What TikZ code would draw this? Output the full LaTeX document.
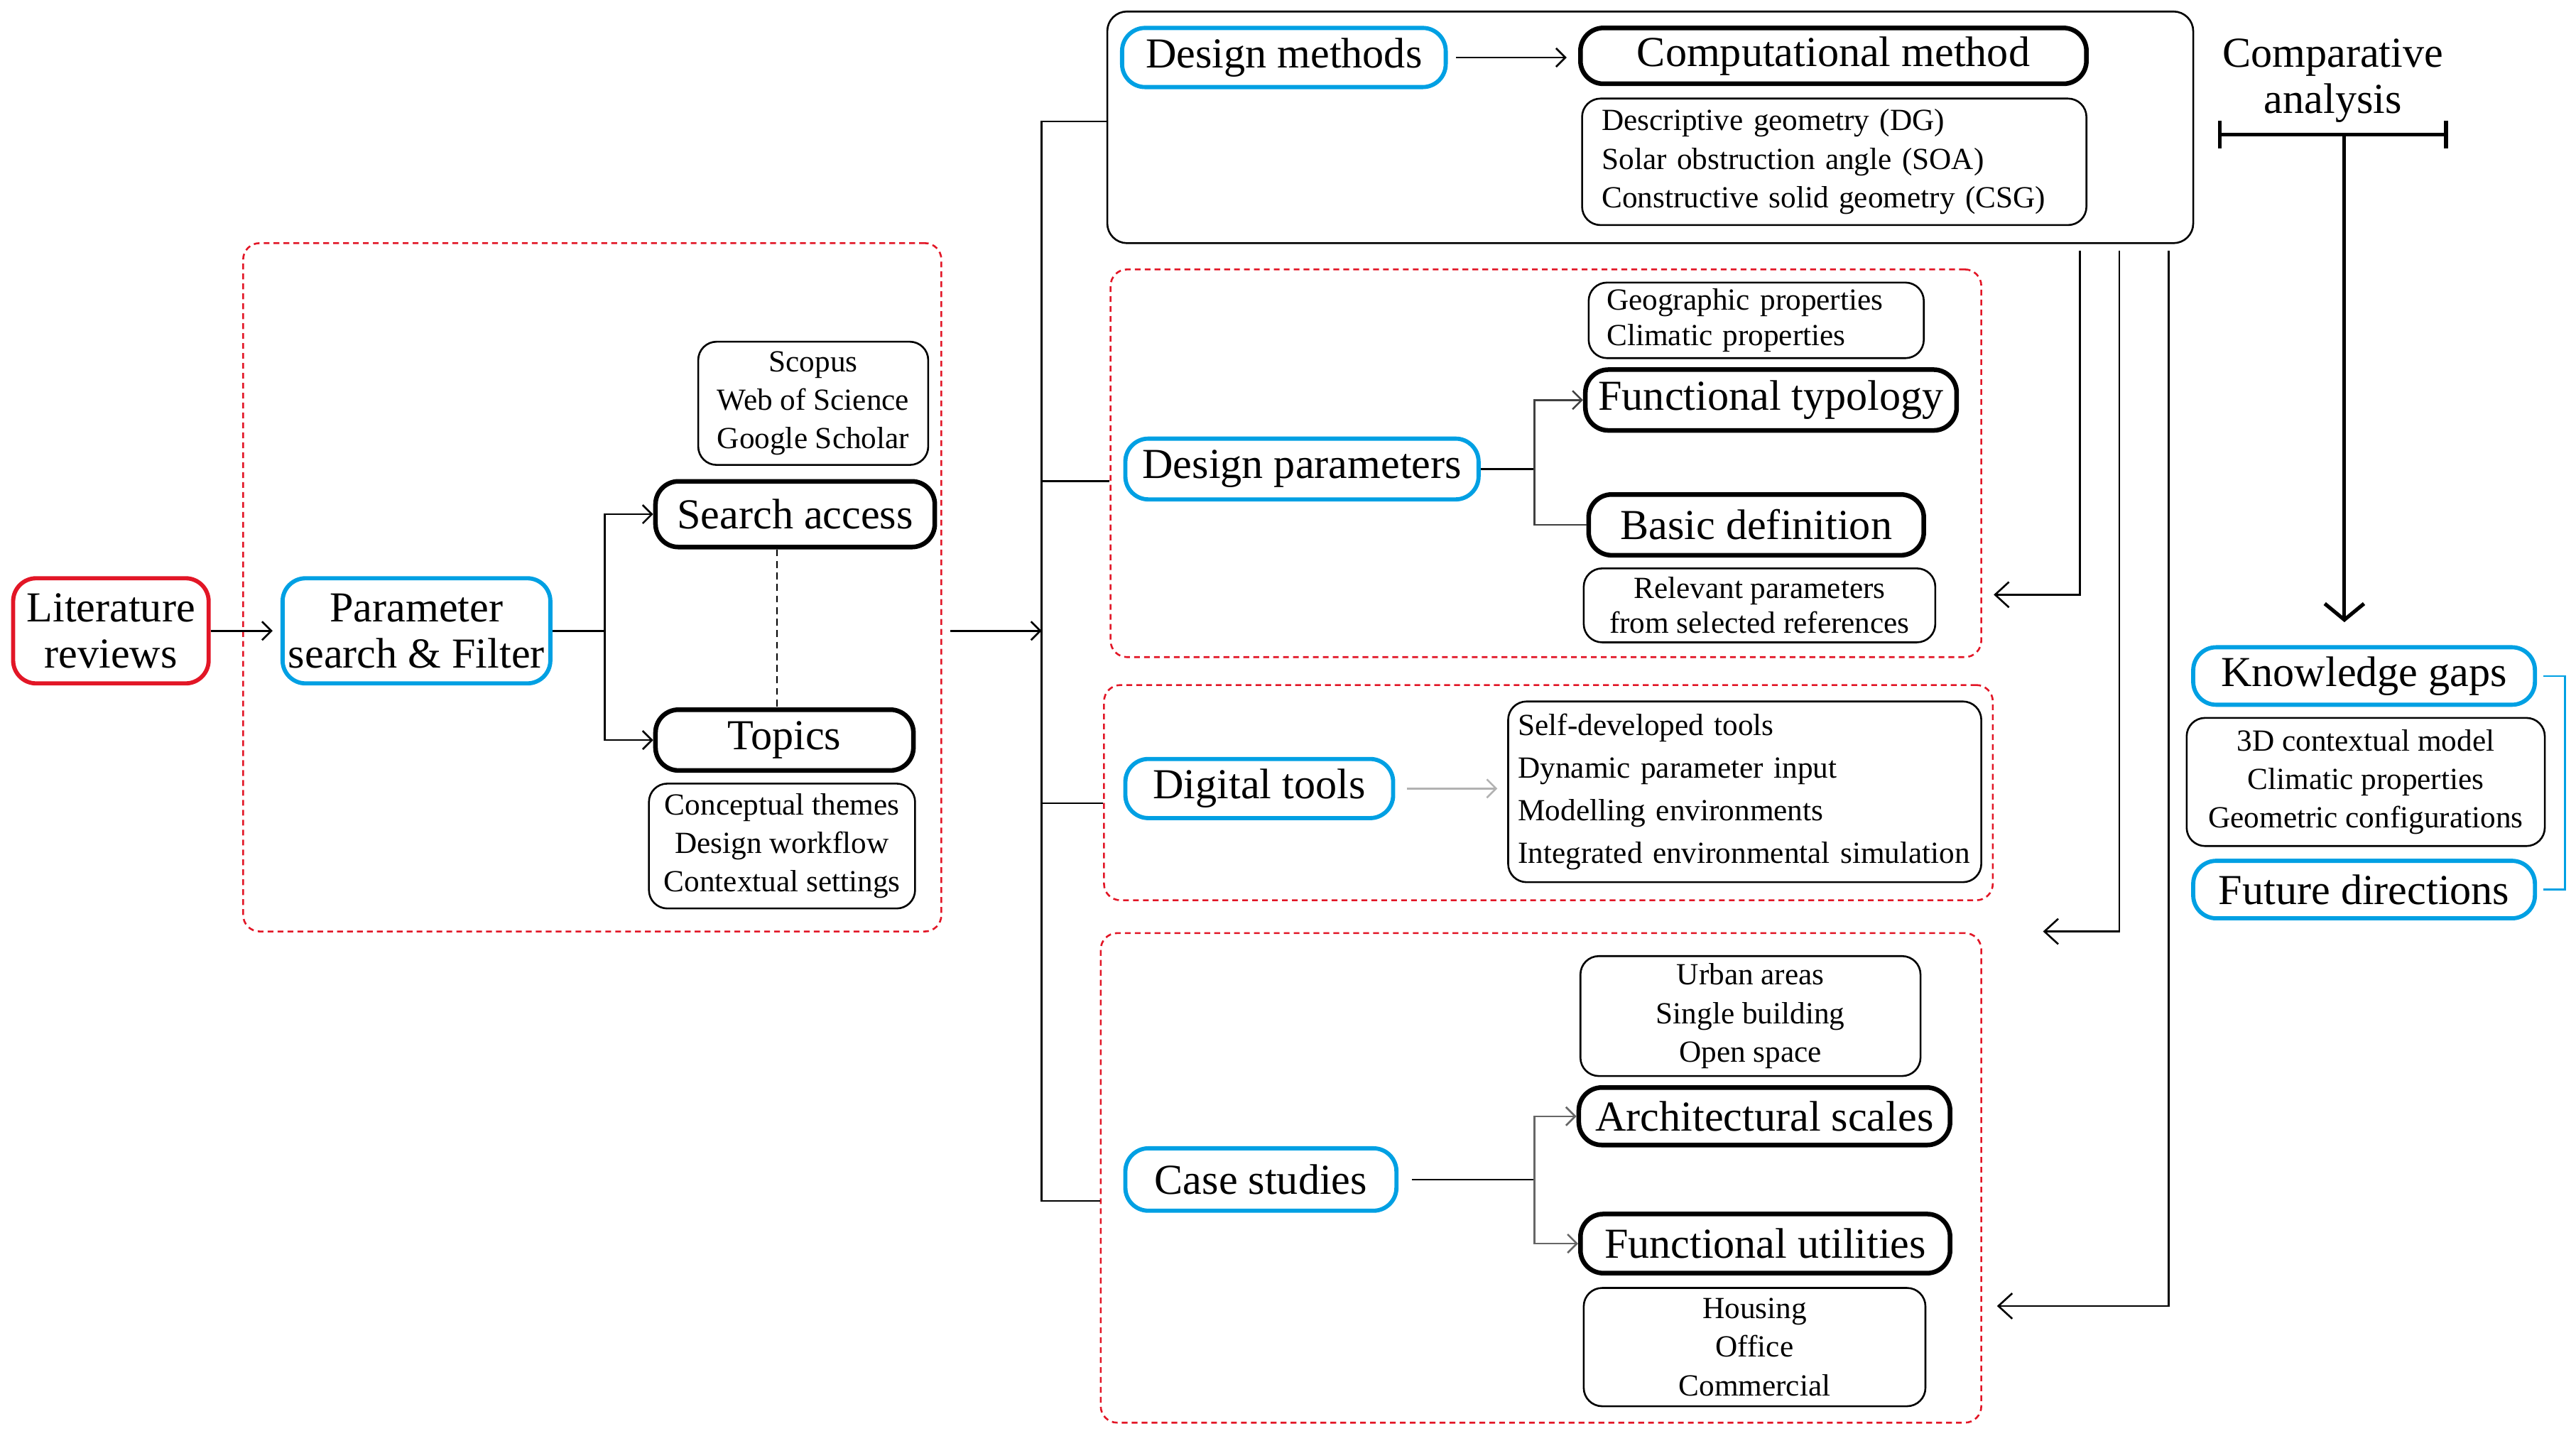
\documentclass[tikz,border=0pt]{standalone}
\usepackage{fontspec}
\setmainfont{Liberation Serif}
\usetikzlibrary{arrows.meta,calc}
\definecolor{cblue}{RGB}{0,160,227}
\definecolor{cred}{RGB}{226,22,38}
\newcommand\bigf{\fontsize{18.5}{19.9}\selectfont}
\newcommand\smf{\fontsize{13.3}{16.7}\selectfont}
\newcommand\bx[7]{\node[#6, minimum width={(#4-#2)*0.25mm}, minimum height={(#5-#3)*0.25mm}] (#1) at ({(#2+#4)/2},{(#3+#5)/2}) {#7};}
\newcommand\bxl[8]{\node[#6, align=left, inner xsep={#8*0.25mm}, text width={(#4-#2-2*#8)*0.25mm}, minimum height={(#5-#3)*0.25mm}] (#1) at ({(#2+#4)/2},{(#3+#5)/2}) {#7};}
\begin{document}
\begin{tikzpicture}[x=0.25mm,y=-0.25mm,
  base/.style={rounded corners=3.5mm, inner sep=0pt, align=center},
  bluebox/.style={base, draw=cblue, line width=1.8pt, font=\bigf},
  redbox/.style={base, draw=cred, line width=1.8pt, font=\bigf},
  thickbox/.style={base, draw=black, line width=2pt, font=\bigf},
  thinbox/.style={base, rounded corners=2.8mm, draw=black, line width=0.8pt, font=\smf},
  groupbox/.style={draw=black, line width=0.8pt, rounded corners=3mm, inner sep=0pt},
  dashbox/.style={draw=cred, line width=0.8pt, dash pattern=on 2.5pt off 1.8pt, rounded corners=2.5mm, inner sep=0pt},
  conn/.style={line width=0.8pt},
  arr/.style={conn, -{Straight Barb[length=4pt,width=8pt]}},
  bigarr/.style={conn, -{Straight Barb[length=6pt,width=11pt]}},
]
\useasboundingbox (0,0) rectangle (1568,874);

% groups
\bx{g0}{674}{7}{1335}{148}{groupbox}{}
\bx{g1}{148}{148}{573}{567}{dashbox}{}
\bx{g2}{676}{164}{1206}{400}{dashbox}{}
\bx{g3}{672}{417}{1213}{548}{dashbox}{}
\bx{g4}{670}{568}{1206}{866}{dashbox}{}

% left part
\bx{lit}{8}{352}{127}{416}{redbox}{Literature\\reviews}
\bx{psf}{172}{352}{335}{416}{bluebox}{Parameter\\search \& Filter}
\bx{sa}{399}{293}{569}{333}{thickbox}{Search access}
\bx{tp}{399}{432}{556}{469}{thickbox}{Topics}
\bx{db}{425}{208}{565}{283}{thinbox}{Scopus\\Web of Science\\Google Scholar}
\bx{th}{395}{477}{557}{553}{thinbox}{Conceptual themes\\Design workflow\\Contextual settings}

% design methods
\bx{dm}{683}{17}{880}{53}{bluebox}{Design methods}
\bx{cm}{962}{17}{1270}{51}{thickbox}{Computational method}
\bxl{dg}{963}{60}{1270}{137}{thinbox}{Descriptive geometry (DG)\\Solar obstruction angle (SOA)\\Constructive solid geometry (CSG)}{12}

% design parameters
\bx{dp}{685}{267}{900}{304}{bluebox}{Design parameters}
\bxl{geo}{967}{172}{1171}{218}{thinbox, font=\fontsize{13.3}{15.4}\selectfont}{Geographic properties\\Climatic properties}{11}
\bx{ft}{965}{225}{1191}{262}{thickbox}{Functional typology}
\bx{bd}{967}{301}{1171}{338}{thickbox}{Basic definition}
\bx{rel}{964}{346}{1178}{391}{thinbox, font=\fontsize{13.3}{15}\selectfont}{Relevant parameters\\from selected references}

% digital tools
\bx{dt}{685}{462}{848}{498}{bluebox}{Digital tools}
\bxl{tools}{918}{427}{1206}{537}{thinbox, font=\fontsize{13.3}{18.5}\selectfont}{Self-developed tools\\Dynamic parameter input\\Modelling environments\\Integrated environmental simulation}{6}

% case studies
\bx{cs}{685}{699}{850}{737}{bluebox}{Case studies}
\bx{urb}{962}{582}{1169}{655}{thinbox}{Urban areas\\Single building\\Open space}
\bx{as}{961}{662}{1187}{697}{thickbox}{Architectural scales}
\bx{fu}{962}{739}{1187}{775}{thickbox}{Functional utilities}
\bx{hous}{964}{784}{1172}{856}{thinbox}{Housing\\Office\\Commercial}

% right column
\node[font=\bigf, align=center, inner sep=0pt] (ca) at (1420,49) {Comparative\\analysis};
\bx{kg}{1335}{394}{1543}{429}{bluebox}{Knowledge gaps}
\bx{kgl}{1331}{437}{1549}{515}{thinbox}{3D contextual model\\Climatic properties\\Geometric configurations}
\bx{fd}{1335}{524}{1543}{559}{bluebox}{Future directions}

% coordinates
\coordinate (j1) at (368,384);
\coordinate (dc) at (473,0);
\coordinate (tr) at (634,384);
\coordinate (t1) at (634,74);
\coordinate (t2) at (634,293);
\coordinate (t3) at (634,489);
\coordinate (t4) at (634,731);
\coordinate (j2) at (934,285.5);
\coordinate (j3) at (934,718);
\coordinate (r1) at (1266,362);
\coordinate (r2) at (1290,567);
\coordinate (r3) at (1320,795);
\coordinate (cal) at (1350,82);
\coordinate (car) at (1490,82);
\coordinate (cam) at (1427,82);

% left connectors
\draw[arr, shorten >=1.2mm] (lit) -- (psf);
\draw[conn] (psf.east) -- (j1);
\draw[arr] (j1) |- (sa.west);
\draw[arr] (j1) |- (tp.west);
\draw[conn, dash pattern=on 3pt off 2pt] (sa.south -| dc) -- (tp.north -| dc);
\draw[arr, shorten <=1.25mm] (g1.east |- tr) -- (tr);

% trunk
\draw[conn] (g0.west |- t1) -- (t1) -- (t4) -- (g4.west |- t4);
\draw[conn] (t2) -- (g2.west |- t2);
\draw[conn] (t3) -- (g3.west |- t3);

% inner connectors
\draw[arr, shorten <=1.25mm, shorten >=1.75mm] (dm.east) -- (dm.east -| cm.west);
\draw[conn] (dp.east) -- (j2);
\draw[arr, black!75] (j2) |- (ft.west);
\draw[conn, black!75] (j2) |- (bd.west);
\draw[arr, black!30, shorten <=1.75mm, shorten >=1.5mm] (dt.east) -- (dt.east -| tools.west);
\draw[conn, shorten <=2mm] (cs.east) -- (j3);
\draw[arr, black!60] (j3) |- (as.west);
\draw[arr, black!60] (j3) |- (fu.west);

% right-side feedback arrows
\draw[bigarr, shorten <=1mm, shorten >=1.75mm] (g0.south -| r1) -- (r1) -- (g2.east |- r1);
\draw[bigarr, shorten <=1mm, shorten >=7.5mm] (g0.south -| r2) -- (r2) -- (g3.east |- r2);
\draw[bigarr, shorten <=1mm, shorten >=2.25mm] (g0.south -| r3) -- (r3) -- (g4.east |- r3);

% comparative analysis
\draw[line width=1.6pt, {Bar[width=12pt]}-{Bar[width=12pt]}] (cal) -- (car);
\draw[line width=1.6pt, -{Straight Barb[length=7pt,width=17pt]}, shorten >=3.5mm] (cam) -- (kg.north -| cam);
\draw[cblue, line width=0.7pt] ([xshift=1mm]kg.east) -- ++(13,0) |- ([xshift=1mm]fd.east);
\end{tikzpicture}
\end{document}
